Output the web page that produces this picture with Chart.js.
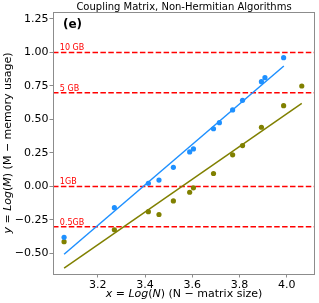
<!DOCTYPE html>
<html>
<head>
<meta charset="utf-8">
<script src="https://cdn.jsdelivr.net/npm/chart.js@4/dist/chart.umd.min.js"></script>
<style>
    body { margin: 0; background: #ffffff; }
    canvas { display: block; }
</style>
</head>
<body>
<canvas id="chart" width="319" height="303"></canvas>
<script>
// measured points (log10 of matrix size / memory)
var blueX = [3.057, 3.270, 3.414, 3.459, 3.520, 3.589, 3.605, 3.690, 3.715, 3.771, 3.813, 3.893, 3.908, 3.987];
var blueY = [-0.379, -0.158, 0.024, 0.048, 0.143, 0.258, 0.280, 0.431, 0.476, 0.571, 0.643, 0.782, 0.812, 0.961];
var oliveX = [3.057, 3.270, 3.414, 3.459, 3.520, 3.589, 3.605, 3.690, 3.771, 3.813, 3.893, 3.987, 4.064];
var oliveY = [-0.412, -0.323, -0.188, -0.209, -0.108, -0.043, -0.010, 0.097, 0.236, 0.305, 0.442, 0.603, 0.750];

// fitted lines (end points)
var blueFitX = [3.057, 3.988];
var blueFitY = [-0.506, 0.899];
var oliveFitX = [3.057, 4.064];
var oliveFitY = [-0.610, 0.621];

// memory limits
var limitY = [1.0, 0.70, 0.0, -0.30];
var limitLabels = ["10 GB", "5 GB", "1GB", "0.5GB"];

var xTicks = [3.2, 3.4, 3.6, 3.8, 4.0];
var yTicks = [-0.5, -0.25, 0, 0.25, 0.5, 0.75, 1.0, 1.25];

var xMin = 3.01, xMax = 4.12;
var yMin = -0.653, yMax = 1.302;

var BLUE = '#1e90ff';
var OLIVE = '#808000';
var FONT = 'DejaVu Sans';

function pts(xs, ys) {
    return xs.map((x, i) => ({ x: x, y: ys[i] }));
}

var datasets = [];

datasets.push({
    data: pts(blueX, blueY),
    backgroundColor: BLUE,
    borderWidth: 0,
    pointRadius: 2.6,
    showLine: false
});

datasets.push({
    data: pts(oliveX, oliveY),
    backgroundColor: OLIVE,
    borderWidth: 0,
    pointRadius: 2.6,
    showLine: false
});

datasets.push({
    data: pts(blueFitX, blueFitY),
    borderColor: BLUE,
    borderWidth: 1.5,
    pointRadius: 0,
    showLine: true
});

datasets.push({
    data: pts(oliveFitX, oliveFitY),
    borderColor: OLIVE,
    borderWidth: 1.5,
    pointRadius: 0,
    showLine: true
});

limitY.forEach(v => {
    datasets.push({
        data: [{ x: xMin, y: v }, { x: xMax, y: v }],
        borderColor: '#ff0000',
        borderWidth: 1.5,
        borderDash: [5.5, 2.4],
        pointRadius: 0,
        showLine: true
    });
});

var decorations = {
    id: 'decorations',
    afterDatasetsDraw(chart) {
        var ctx = chart.ctx;
        var area = chart.chartArea;
        var x = chart.scales.x;
        var y = chart.scales.y;

        ctx.save();

        // frame
        ctx.strokeStyle = '#8c8c8c';
        ctx.lineWidth = 1;
        ctx.strokeRect(area.left + 0.5, area.top + 0.5, area.right - area.left - 1, area.bottom - area.top);

        // limit labels
        ctx.fillStyle = '#ff0000';
        ctx.font = '8px ' + FONT;
        ctx.textAlign = 'left';
        ctx.textBaseline = 'alphabetic';
        limitY.forEach((v, i) => {
            ctx.fillText(limitLabels[i], x.getPixelForValue(3.039), y.getPixelForValue(v) - 2);
        });

        // panel tag
        ctx.fillStyle = '#000';
        ctx.font = 'bold 12px ' + FONT;
        ctx.fillText('(e)', area.left + 10, area.top + 16);

        // title
        ctx.font = '10px ' + FONT;
        ctx.textAlign = 'center';
        ctx.fillText('Coupling Matrix, Non-Hermitian Algorithms', (area.left + area.right) / 2, 10);

        // x axis label
        drawMixed(ctx, [
            ['italic', 'x'], ['normal', ' = '], ['italic', 'Log'], ['normal', '('], ['italic', 'N'],
            ['normal', ') (N \u2212 matrix size)']
        ], (area.left + area.right) / 2, 297);

        // y axis label
        ctx.translate(11, (area.top + area.bottom) / 2);
        ctx.rotate(-Math.PI / 2);
        drawMixed(ctx, [
            ['italic', 'y'], ['normal', ' = '], ['italic', 'Log'], ['normal', '('], ['italic', 'M'],
            ['normal', ') (M \u2212 memory usage)']
        ], 0, 0);

        ctx.restore();
    }
};

function drawMixed(ctx, parts, cx, baseline) {
    var total = 0;
    parts.forEach(p => {
        ctx.font = p[0] + ' 11px ' + FONT;
        total += ctx.measureText(p[1]).width;
    });
    var pos = cx - total / 2;
    ctx.textAlign = 'left';
    ctx.fillStyle = '#000';
    parts.forEach(p => {
        ctx.font = p[0] + ' 11px ' + FONT;
        ctx.fillText(p[1], pos, baseline);
        pos += ctx.measureText(p[1]).width;
    });
}

new Chart(document.getElementById('chart'), {
    type: 'scatter',
    data: { datasets },
    options: {
        responsive: false,
        animation: false,
        layout: { padding: { top: 12, right: 2, left: 0, bottom: 0 } },
        plugins: {
            legend: { display: false },
            tooltip: { enabled: false }
        },
        scales: {
            x: {
                type: 'linear',
                min: xMin,
                max: xMax,
                afterBuildTicks: s => { s.ticks = xTicks.map(v => ({ value: v })); },
                afterFit: s => { s.height = 29; },
                ticks: {
                    color: '#000',
                    padding: 1,
                    maxRotation: 0,
                    font: { family: FONT, size: 11 },
                    callback: v => v.toFixed(1)
                },
                grid: { drawOnChartArea: false, tickLength: 3.5, color: '#8c8c8c' },
                border: { display: false }
            },
            y: {
                type: 'linear',
                min: yMin,
                max: yMax,
                afterBuildTicks: s => { s.ticks = yTicks.map(v => ({ value: v })); },
                afterFit: s => { s.width = 53; },
                ticks: {
                    color: '#000',
                    padding: 1,
                    font: { family: FONT, size: 11 },
                    callback: v => (v < 0 ? '\u2212' : '') + Math.abs(v).toFixed(2)
                },
                grid: { drawOnChartArea: false, tickLength: 3.5, color: '#8c8c8c' },
                border: { display: false }
            }
        }
    },
    plugins: [decorations]
});
</script>
</body>
</html>
